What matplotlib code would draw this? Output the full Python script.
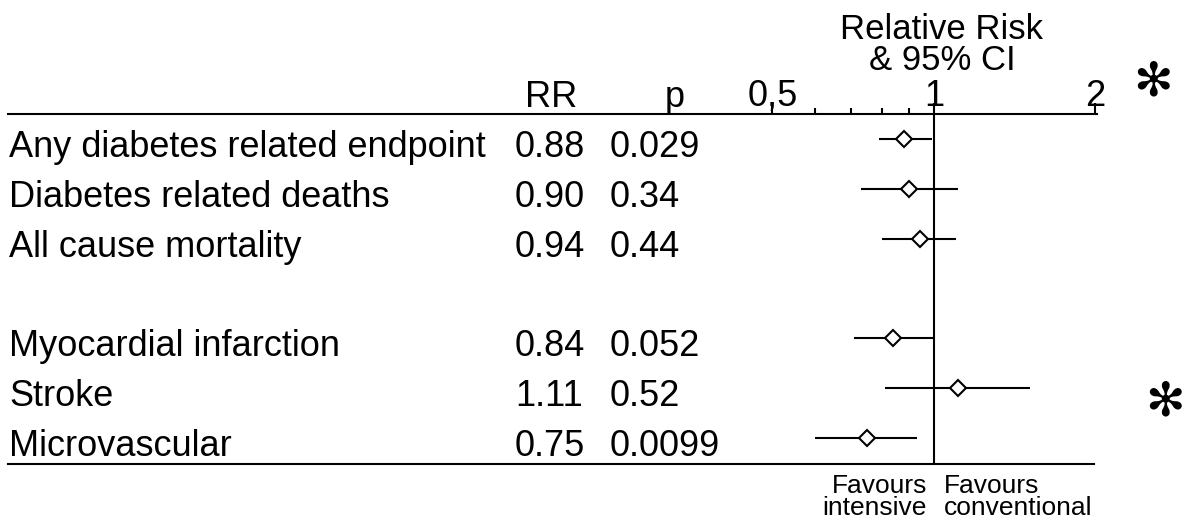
import matplotlib
matplotlib.use("Agg")
import matplotlib.pyplot as plt
from matplotlib.ticker import FixedLocator, NullFormatter
from matplotlib.transforms import blended_transform_factory

outcomes = ["Any diabetes related endpoint", "Diabetes related deaths", "All cause mortality",
            "Myocardial infarction", "Stroke", "Microvascular"]
rr = [0.88, 0.90, 0.94, 0.84, 1.11, 0.75]
ci_lo = [0.79, 0.73, 0.80, 0.71, 0.81, 0.60]
ci_hi = [0.99, 1.11, 1.10, 1.00, 1.51, 0.93]
p_values = ["0.029", "0.34", "0.44", "0.052", "0.52", "0.0099"]
row_pos = [1, 2, 3, 5, 6, 7]

major_ticks = [0.5, 1, 2]
major_labels = ["0,5", "1", "2"]
minor_ticks = [0.6, 0.7, 0.8, 0.9]

plt.rcParams['font.family'] = ['Liberation Sans', 'DejaVu Sans']
W, H = 1188, 525
fig = plt.figure(figsize=(W / 100, H / 100), dpi=100)
ax = fig.add_axes([8 / W, 1 - 464 / H, (1097 - 8) / W, (464 - 114) / H])

ax.set_xscale('log', base=2)
ax.set_xlim(0.0188, 2.013)
ax.set_ylim(7.52, 0.5)

for lo, hi, m, y in zip(ci_lo, ci_hi, rr, row_pos):
    ax.plot([lo, hi], [y, y], color='black', lw=1.5, solid_capstyle='butt')
ax.plot(rr, row_pos, linestyle='none', marker='D', markersize=8,
        markerfacecolor='white', markeredgecolor='black', markeredgewidth=1.5, zorder=3)
ax.axvline(1, color='black', lw=1.5)

for s in ['left', 'right']:
    ax.spines[s].set_visible(False)
ax.spines['top'].set_linewidth(1.5)
ax.spines['bottom'].set_linewidth(1.5)
ax.spines['bottom'].set_bounds(0.0188, 1.99)

ax.xaxis.tick_top()
ax.xaxis.set_major_locator(FixedLocator(major_ticks))
ax.set_xticklabels(major_labels)
ax.xaxis.set_minor_locator(FixedLocator(minor_ticks))
ax.xaxis.set_minor_formatter(NullFormatter())
ax.tick_params(axis='x', which='major', direction='out', length=8, width=1.5, pad=-8, labelsize=26)
ax.tick_params(axis='x', which='minor', direction='out', length=4.5, width=1.5)
ax.set_yticks([])

# text columns: x in figure fraction, y in row data units
tr = blended_transform_factory(fig.transFigure, ax.transData)
for name, m, p, y in zip(outcomes, rr, p_values, row_pos):
    ax.text(9 / W, y + 0.36, name, transform=tr, fontsize=26, va='baseline', ha='left')
    ax.text(515 / W, y + 0.36, f"{m:.2f}", transform=tr, fontsize=26, va='baseline', ha='left')
    ax.text(610 / W, y + 0.36, p, transform=tr, fontsize=26, va='baseline', ha='left')

fig.text(525 / W, 1 - 107 / H, "RR", fontsize=26, va='baseline', ha='left')
fig.text(665 / W, 1 - 107 / H, "p", fontsize=26, va='baseline', ha='left')
fig.text(942 / W, 1 - 70 / H, "Relative Risk\n& 95% CI", fontsize=25, va='baseline',
         ha='center', multialignment='center', linespacing=0.92)

fig.text(927 / W, 1 - 515 / H, "Favours\nintensive", fontsize=19, va='baseline',
         ha='right', multialignment='right', linespacing=0.88)
fig.text(944 / W, 1 - 515 / H, "Favours\nconventional", fontsize=19, va='baseline',
         ha='left', multialignment='left', linespacing=0.88)

fig.text(1153 / W, 1 - 83 / H, "\u273b", fontsize=34, va='center', ha='center', family='DejaVu Sans')
fig.text(1165 / W, 1 - 403 / H, "\u273b", fontsize=34, va='center', ha='center', family='DejaVu Sans')

fig.savefig("out.png", dpi=100)
